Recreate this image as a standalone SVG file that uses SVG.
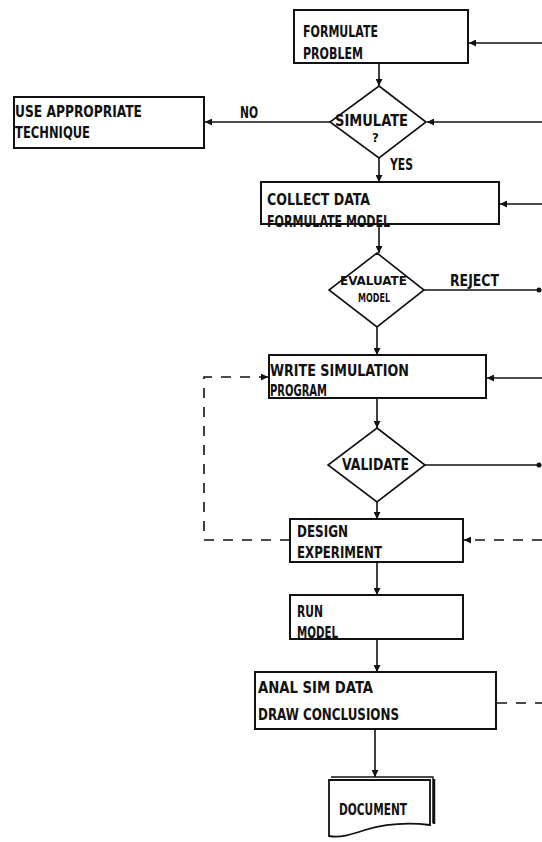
<svg xmlns="http://www.w3.org/2000/svg" width="542" height="842" viewBox="0 0 542 842">
  <style>
    .box { fill: #fff; stroke: #111; stroke-width: 2; }
    .dia { fill: #fff; stroke: #111; stroke-width: 1.6; }
    .ln { fill: none; stroke: #111; stroke-width: 1.6; }
    .dash { fill: none; stroke: #111; stroke-width: 1.6; stroke-dasharray: 10 9; }
    text { font-family: "Liberation Sans Narrow", "DejaVu Sans Condensed", "Liberation Sans", sans-serif; font-weight: bold; font-size: 16.5px; fill: #111; }
    .sm { font-size: 13px; }
  </style>
  <defs>
    <marker id="ah" viewBox="0 0 10 10" refX="10" refY="5" markerWidth="7" markerHeight="7" markerUnits="userSpaceOnUse" orient="auto">
      <path d="M0,0 L10,5 L0,10 Z" fill="#111"/>
    </marker>
  </defs>

  <rect width="542" height="842" fill="#fff"/>

  <!-- connectors -->
  <g id="connectors">
    <line class="ln" x1="542" y1="43" x2="469" y2="43" marker-end="url(#ah)"/>
    <line class="ln" x1="379" y1="63" x2="379" y2="86" marker-end="url(#ah)"/>
    <line class="ln" x1="542" y1="122" x2="427" y2="122" marker-end="url(#ah)"/>
    <line class="ln" x1="330" y1="122" x2="205" y2="122" marker-end="url(#ah)"/>
    <line class="ln" x1="379" y1="158" x2="379" y2="182" marker-end="url(#ah)"/>
    <line class="ln" x1="542" y1="204" x2="500" y2="204" marker-end="url(#ah)"/>
    <line class="ln" x1="379" y1="225" x2="379" y2="253" marker-end="url(#ah)"/>
    <line class="ln" x1="424" y1="290" x2="540" y2="290"/>
    <circle cx="539" cy="290" r="2.5" fill="#111"/>
    <line class="ln" x1="377" y1="327" x2="377" y2="355" marker-end="url(#ah)"/>
    <line class="ln" x1="542" y1="378" x2="487" y2="378" marker-end="url(#ah)"/>
    <line class="ln" x1="377" y1="398" x2="377" y2="428" marker-end="url(#ah)"/>
    <line class="ln" x1="425" y1="465" x2="540" y2="465"/>
    <circle cx="539" cy="465" r="2.5" fill="#111"/>
    <line class="ln" x1="377" y1="502" x2="377" y2="519" marker-end="url(#ah)"/>
    <line class="ln" x1="377" y1="562" x2="377" y2="595" marker-end="url(#ah)"/>
    <line class="ln" x1="377" y1="639" x2="377" y2="672" marker-end="url(#ah)"/>
    <line class="ln" x1="375" y1="729" x2="375" y2="777" marker-end="url(#ah)"/>
    <!-- dashed feedback loops -->
    <path class="dash" d="M290,540 L204,540 L204,377 L268,377" marker-end="url(#ah)"/>
    <path class="dash" d="M542,540 L464,540" marker-end="url(#ah)"/>
    <path class="dash" d="M497,703 L542,703"/>
  </g>

  <g id="formulate-problem">
    <rect class="box" x="294" y="10" width="174" height="53"/>
    <text x="303" y="37" textLength="75" lengthAdjust="spacingAndGlyphs">FORMULATE</text>
    <text x="303" y="59" textLength="60" lengthAdjust="spacingAndGlyphs">PROBLEM</text>
  </g>

  <g id="use-technique">
    <rect class="box" x="14" y="97" width="190" height="51"/>
    <text x="15" y="117" textLength="127" lengthAdjust="spacingAndGlyphs">USE APPROPRIATE</text>
    <text x="15" y="138" textLength="75" lengthAdjust="spacingAndGlyphs">TECHNIQUE</text>
  </g>
  <text x="240" y="118" textLength="18" lengthAdjust="spacingAndGlyphs">NO</text>

  <g id="simulate">
    <polygon class="dia" points="379,86 426,122 379,158 330,122"/>
    <text x="335" y="126" textLength="73" lengthAdjust="spacingAndGlyphs">SIMULATE</text>
    <text class="sm" x="372" y="142">?</text>
  </g>
  <text x="390" y="170" textLength="23" lengthAdjust="spacingAndGlyphs">YES</text>

  <g id="collect-data">
    <rect class="box" x="261" y="182" width="238" height="42"/>
    <text x="267" y="205" textLength="103" lengthAdjust="spacingAndGlyphs">COLLECT DATA</text>
    <text x="267" y="227" textLength="123" lengthAdjust="spacingAndGlyphs">FORMULATE MODEL</text>
  </g>

  <g id="evaluate-model">
    <polygon class="dia" points="377,253 424,290 377,327 329,290"/>
    <text class="sm" x="340" y="285" textLength="67" lengthAdjust="spacingAndGlyphs">EVALUATE</text>
    <text class="sm" x="358" y="302" textLength="32" lengthAdjust="spacingAndGlyphs">MODEL</text>
  </g>
  <text x="450" y="286" textLength="49" lengthAdjust="spacingAndGlyphs">REJECT</text>

  <g id="write-program">
    <rect class="box" x="269" y="355" width="217" height="43"/>
    <text x="270" y="376" textLength="139" lengthAdjust="spacingAndGlyphs">WRITE SIMULATION</text>
    <text x="270" y="396" textLength="57" lengthAdjust="spacingAndGlyphs">PROGRAM</text>
  </g>

  <g id="validate">
    <polygon class="dia" points="377,428 425,465 377,502 328,465"/>
    <text x="342" y="470" textLength="67" lengthAdjust="spacingAndGlyphs">VALIDATE</text>
  </g>

  <g id="design-experiment">
    <rect class="box" x="290" y="519" width="173" height="43"/>
    <text x="297" y="537" textLength="51" lengthAdjust="spacingAndGlyphs">DESIGN</text>
    <text x="297" y="558" textLength="85" lengthAdjust="spacingAndGlyphs">EXPERIMENT</text>
  </g>

  <g id="run-model">
    <rect class="box" x="290" y="595" width="173" height="44"/>
    <text x="297" y="617" textLength="26" lengthAdjust="spacingAndGlyphs">RUN</text>
    <text x="297" y="638" textLength="41" lengthAdjust="spacingAndGlyphs">MODEL</text>
  </g>

  <g id="analyse">
    <rect class="box" x="255" y="672" width="241" height="57"/>
    <text x="258" y="693" textLength="115" lengthAdjust="spacingAndGlyphs">ANAL SIM DATA</text>
    <text x="258" y="720" textLength="141" lengthAdjust="spacingAndGlyphs">DRAW CONCLUSIONS</text>
  </g>

  <g id="document">
    <!-- stacked sheets behind the page -->
    <path d="M331,777 L433,777 L433,823" fill="none" stroke="#111" stroke-width="1.4"/>
    <path d="M434,779 L434,824" fill="none" stroke="#111" stroke-width="2.5"/>
    <path d="M329,780 L430,780 L430,825 C405,822 385,824 365,830 C350,835 340,838 329,836 Z" fill="#fff" stroke="#111" stroke-width="1.8"/>
    <text x="339" y="815" textLength="68" lengthAdjust="spacingAndGlyphs">DOCUMENT</text>
  </g>
</svg>
